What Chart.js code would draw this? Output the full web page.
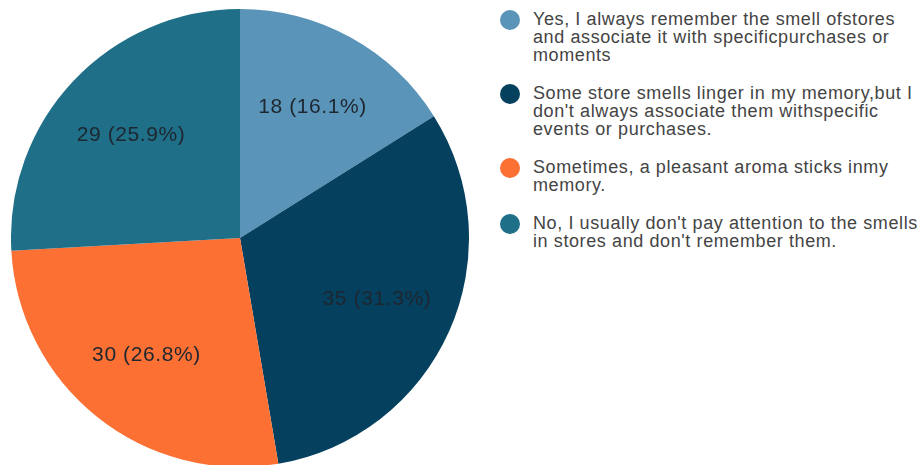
<!DOCTYPE html>
<html>
<head>
<meta charset="utf-8">
<script src="https://cdn.jsdelivr.net/npm/chart.js@4/dist/chart.umd.min.js"></script>
<style>
  html, body { margin: 0; padding: 0; background: #fff; overflow: hidden; }
  body { width: 924px; height: 465px; position: relative; font-family: "Liberation Sans", Arial, sans-serif; }
  #pie-box { position: absolute; left: 11px; top: 9px; width: 458px; height: 458px; }
  #legend { position: absolute; left: 500px; top: 10px; width: 424px; margin: 0; padding: 0; list-style: none; }
  #legend li { position: relative; padding-left: 33px; margin-bottom: 20px; font-size: 18px; line-height: 18px; letter-spacing: 0.6px; color: #444; }
  #legend .dot { position: absolute; left: 0; top: 0; width: 20px; height: 20px; border-radius: 50%; }
</style>
</head>
<body>
<div id="pie-box"><canvas id="smells"></canvas></div>
<ul id="legend"></ul>
<script>
// Survey answers (legend lines as shown)
const answerLabels = [
  ['Yes, I always remember the smell ofstores', 'and associate it with specificpurchases or', 'moments'],
  ['Some store smells linger in my memory,but I', "don't always associate them withspecific", 'events or purchases.'],
  ['Sometimes, a pleasant aroma sticks inmy', 'memory.'],
  ["No, I usually don't pay attention to the smells", "in stores and don't remember them."]
];
const answerCounts = [18, 35, 30, 29];
const answerColors = ['#5a94b8', '#05405f', '#fc7033', '#1e6f87'];

const total = answerCounts.reduce((a, b) => a + b, 0);

// value + percent written inside each slice
const sliceLabels = {
  id: 'sliceLabels',
  afterDatasetsDraw(chart) {
    const ctx = chart.ctx;
    const meta = chart.getDatasetMeta(0);
    ctx.save();
    ctx.font = '21px "Liberation Sans", Arial, sans-serif';
    ctx.letterSpacing = '0.6px';
    ctx.fillStyle = '#1e2630';
    ctx.textAlign = 'center';
    ctx.textBaseline = 'middle';
    meta.data.forEach((arc, i) => {
      const p = arc.getProps(['x', 'y', 'startAngle', 'endAngle', 'outerRadius'], true);
      const mid = (p.startAngle + p.endAngle) / 2;
      const r = p.outerRadius * 0.655;
      const v = answerCounts[i];
      const pct = (v / total * 100).toFixed(1);
      ctx.fillText(v + ' (' + pct + '%)', p.x + Math.cos(mid) * r, p.y + Math.sin(mid) * r);
    });
    ctx.restore();
  }
};

new Chart(document.getElementById('smells'), {
  type: 'pie',
  data: {
    labels: answerLabels,
    datasets: [{
      data: answerCounts,
      backgroundColor: answerColors,
      borderWidth: 0
    }]
  },
  options: {
    responsive: true,
    maintainAspectRatio: false,
    animation: false,
    layout: { padding: 0 },
    plugins: {
      legend: { display: false },
      tooltip: { enabled: false }
    }
  },
  plugins: [sliceLabels]
});

// html legend so the lines wrap like the original
const legendEl = document.getElementById('legend');
answerLabels.forEach((lines, i) => {
  const li = document.createElement('li');
  const dot = document.createElement('span');
  dot.className = 'dot';
  dot.style.background = answerColors[i];
  li.appendChild(dot);
  lines.forEach((line, j) => {
    if (j > 0) li.appendChild(document.createElement('br'));
    li.appendChild(document.createTextNode(line));
  });
  legendEl.appendChild(li);
});
</script>
</body>
</html>
